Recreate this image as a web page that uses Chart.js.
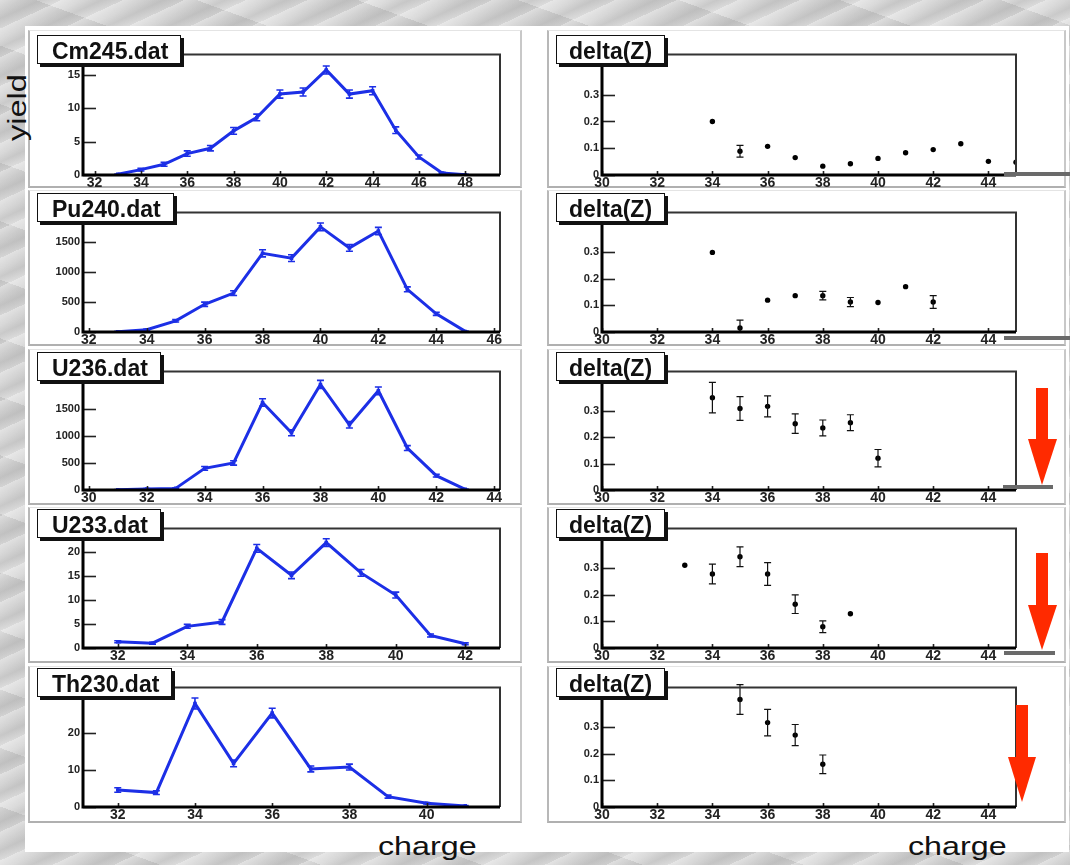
<!DOCTYPE html>
<html><head><meta charset="utf-8">
<script src="https://cdn.jsdelivr.net/npm/chart.js@4.4.1/dist/chart.umd.min.js"></script>
<style>
html,body{margin:0;padding:0;}
body{width:1070px;height:865px;position:relative;overflow:hidden;
 background:
  repeating-linear-gradient(155deg, rgba(255,255,255,0.35) 0px, rgba(255,255,255,0) 9px, rgba(150,150,150,0.25) 17px, rgba(255,255,255,0) 26px),
  repeating-linear-gradient(20deg, rgba(255,255,255,0.25) 0px, rgba(200,200,200,0) 30px, rgba(170,170,170,0.2) 55px),
  #d2d2d2;}
#sheet{position:absolute;left:25px;top:26px;width:1044px;height:826px;background:#fff;}
.pad{position:absolute;box-sizing:border-box;border-left:2px solid #b8b8b8;border-bottom:2px solid #b0b0b0;border-top:1px solid #e4e4e4;border-right:2px solid #c8c8c8;}
canvas{position:absolute;}
.tbox{position:absolute;background:#fff;border:1px solid #111;box-shadow:3px 3px 0 #111;
 font:bold 23px 'Liberation Sans',Arial,sans-serif;color:#111;height:29px;line-height:30px;box-sizing:border-box;white-space:nowrap;z-index:5;}
.lab{position:absolute;font:26px 'Liberation Sans',Arial,sans-serif;color:#111;white-space:nowrap;z-index:6;}
svg.ov{position:absolute;left:0;top:0;z-index:8;}
</style></head>
<body>
<div id="sheet"></div>
<div id="root"></div>
<div class="lab" style="left:-13px;top:92px;transform:rotate(-90deg) scaleX(1.25);transform-origin:50% 50%;width:60px;text-align:center;">yield</div>
<div class="lab" style="left:378px;top:831px;transform:scaleX(1.24);transform-origin:0 0;">charge</div>
<div class="lab" style="left:908px;top:831px;transform:scaleX(1.24);transform-origin:0 0;">charge</div>
<svg class="ov" width="1070" height="865">
 <g stroke="#6a6a6a" stroke-width="4">
  <line x1="1004" y1="174" x2="1070" y2="174"/>
  <line x1="1004" y1="338" x2="1070" y2="338"/>
  <line x1="1003" y1="487" x2="1053" y2="487"/>
  <line x1="1004" y1="653" x2="1055" y2="653"/>
 </g>
 <g fill="#ff2a00">
  <rect x="1036" y="388" width="12" height="52"/><polygon points="1028,439 1057,439 1042,485"/>
  <rect x="1036" y="553" width="12" height="53"/><polygon points="1028,605 1057,605 1042,650"/>
  <rect x="1016" y="705" width="12" height="53"/><polygon points="1008,757 1036,757 1022,802"/>
 </g>
</svg>
<script>
// ---------- data ----------
const charge_Cm245 = [33,34,35,36,37,38,39,40,41,42,43,44,45,46,47,48];
const yield_Cm245  = [0.1,0.8,1.6,3.2,4.0,6.6,8.6,12.1,12.4,15.7,12.1,12.6,6.7,2.7,0.3,0.05];
const err_Cm245    = [0.05,0.2,0.3,0.4,0.4,0.5,0.5,0.6,0.6,0.6,0.6,0.6,0.5,0.3,0.1,0.05];

const charge_Pu240 = [33,34,35,36,37,38,39,40,41,42,43,44,45];
const yield_Pu240  = [5,37,185,460,645,1305,1225,1743,1395,1675,708,301,10];
const err_Pu240    = [5,10,20,35,40,60,55,65,55,60,40,25,5];

const charge_U236 = [31,32,33,34,35,36,37,38,39,40,41,42,43];
const yield_U236  = [5,20,30,400,500,1618,1059,1953,1206,1835,776,265,12];
const err_U236    = [3,8,10,35,40,70,55,75,60,70,45,25,5];

const charge_U233 = [32,33,34,35,36,37,38,39,40,41,42];
const yield_U233  = [1.3,1.0,4.5,5.4,20.7,15.1,21.9,15.6,11.0,2.6,0.9];
const err_U233    = [0.2,0.2,0.4,0.5,0.8,0.7,0.8,0.7,0.6,0.3,0.2];

const charge_Th230 = [32,33,34,35,36,37,38,39,40,41];
const yield_Th230  = [4.6,3.9,28.0,11.8,25.4,10.3,10.8,2.8,1.0,0.3];
const err_Th230    = [0.6,0.5,1.5,0.9,1.3,0.8,0.8,0.4,0.2,0.1];

const dzCharge_Cm245 = [34,35,36,37,38,39,40,41,42,43,44,45];
const deltaZ_Cm245   = [0.200,0.089,0.107,0.065,0.033,0.042,0.062,0.083,0.095,0.117,0.051,0.048];
const dzErr_Cm245    = [0,0.022,0,0,0,0,0,0,0,0,0,0];

const dzCharge_Pu240 = [34,35,36,37,38,39,40,41,42];
const deltaZ_Pu240   = [0.300,0.015,0.120,0.137,0.137,0.113,0.111,0.171,0.113];
const dzErr_Pu240    = [0,0.030,0,0,0.016,0.017,0,0,0.024];

const dzCharge_U236 = [34,35,36,37,38,39,40];
const deltaZ_U236   = [0.351,0.310,0.318,0.252,0.236,0.256,0.121];
const dzErr_U236    = [0.058,0.045,0.040,0.037,0.030,0.030,0.033];

const dzCharge_U233 = [33,34,35,36,37,38,39];
const deltaZ_U233   = [0.312,0.279,0.344,0.279,0.165,0.080,0.129];
const dzErr_U233    = [0,0.037,0.037,0.043,0.035,0.022,0];

const dzCharge_Th230 = [35,36,37,38];
const deltaZ_Th230   = [0.405,0.318,0.271,0.161];
const dzErr_Th230    = [0.056,0.050,0.040,0.035];

// tick labels
const xTicks_Cm245 = [32,34,36,38,40,42,44,46,48];
const xTicks_Pu240 = [32,34,36,38,40,42,44,46];
const xTicks_U236  = [30,32,34,36,38,40,42,44];
const xTicks_U233  = [32,34,36,38,40,42];
const xTicks_Th230 = [32,34,36,38,40];
const yTicks_Cm245 = [0,5,10,15];
const yTicks_Pu240 = [0,500,1000,1500];
const yTicks_U236  = [0,500,1000,1500];
const yTicks_U233  = [0,5,10,15,20];
const yTicks_Th230 = [0,10,20];
const xTicks_delta = [30,32,34,36,38,40,42,44];
const yTicks_delta = [0,0.1,0.2,0.3];

const titles = ['Cm245.dat','Pu240.dat','U236.dat','U233.dat','Th230.dat'];
const deltaTitle = 'delta(Z)';

// axis ranges
const xRange_Cm245=[31.5,49.5], yRange_Cm245=[0,18];
const xRange_Pu240=[31.8,46.2], yRange_Pu240=[0,1980];
const xRange_U236=[29.8,44.2],  yRange_U236=[0,2190];
const xRange_U233=[31,43],      yRange_U233=[0,24.8];
const xRange_Th230=[31.1,41.9], yRange_Th230=[0,32.3];
const xRange_delta=[30,45], yRange_delta=[0,0.45];

// ---------- layout ----------
const frameTop=[49,207,366,523,682], frameBot=[175,332,490,648,807];
const padTop=[30,190,349,507,666], padBot=[188,346,505,663,823];
const LEFT={x0:83,x1:500}, RIGHT={x0:602,x1:1016};
const YW=45, XH=22, PT=4, PR=4;

const root=document.getElementById('root');
for(let i=0;i<5;i++){
  [[28,522],[547,1066]].forEach(([a,b])=>{
    const p=document.createElement('div');p.className='pad';
    p.style.cssText=`left:${a}px;top:${padTop[i]}px;width:${b-a}px;height:${padBot[i]-padTop[i]}px;`;
    root.appendChild(p);
  });
}

const BLUE='#1c2fe6';
const errPlugin={
  id:'rootStyle',
  afterDatasetsDraw(chart){
    const {ctx,scales:{x,y}}=chart;
    chart.data.datasets.forEach(ds=>{
      if(!ds.errs) return;
      ctx.save();ctx.strokeStyle=ds.errColor;ctx.lineWidth=ds.errWidth;
      ds.data.forEach((p,k)=>{
        const e=ds.errs[k];
        if(!e) return;
        const px=x.getPixelForValue(p.x);
        const pa=y.getPixelForValue(Math.max(p.y-e,0)), pb=y.getPixelForValue(p.y+e);
        ctx.beginPath();ctx.moveTo(px,pa);ctx.lineTo(px,pb);
        ctx.moveTo(px-ds.cap,pb);ctx.lineTo(px+ds.cap,pb);
        if(p.y-e>0){ctx.moveTo(px-ds.cap,pa);ctx.lineTo(px+ds.cap,pa);}
        ctx.stroke();
      });
      ctx.restore();
    });
  },
  afterDraw(chart){
    const {ctx,chartArea:a,scales:{x,y}}=chart;
    ctx.save();
    ctx.strokeStyle='#222';ctx.lineWidth=1.6;
    y.ticks.forEach(t=>{const py=Math.round(y.getPixelForValue(t.value))+0.5;ctx.beginPath();ctx.moveTo(a.left,py);ctx.lineTo(a.left+13,py);ctx.stroke();});
    x.ticks.forEach(t=>{const px=Math.round(x.getPixelForValue(t.value))+0.5;ctx.beginPath();ctx.moveTo(px,a.bottom);ctx.lineTo(px,a.bottom-4);ctx.stroke();});
    ctx.strokeStyle='#333';ctx.lineWidth=2;
    ctx.beginPath();ctx.moveTo(a.left,a.top);ctx.lineTo(a.right,a.top);ctx.lineTo(a.right,a.bottom);ctx.stroke();
    ctx.strokeStyle='#000';ctx.lineWidth=3;
    ctx.beginPath();ctx.moveTo(a.left,a.top);ctx.lineTo(a.left,a.bottom);ctx.lineTo(a.right,a.bottom);ctx.stroke();
    ctx.restore();
  }
};

function makeChart(row,side,xs,ys,es,xr,yr,xt,yt,title){
  const F=side==='L'?LEFT:RIGHT;
  const fw=F.x1-F.x0, fh=frameBot[row]-frameTop[row];
  const c=document.createElement('canvas');
  const W=YW+fw+PR, H=PT+fh+XH;
  c.width=W;c.height=H;
  c.style.left=(F.x0-YW)+'px';c.style.top=(frameTop[row]-PT)+'px';
  c.style.width=W+'px';c.style.height=H+'px';
  root.appendChild(c);
  const tb=document.createElement('div');tb.className='tbox';
  tb.textContent=title;
  if(side==='L'){tb.style.left='37px';tb.style.padding='0 12px 0 14px';}
  else{tb.style.left='556px';tb.style.padding='0 12px 0 12px';}
  tb.style.top=(frameTop[row]-14)+'px';
  root.appendChild(tb);
  const pts=xs.map((v,k)=>({x:v,y:ys[k]}));
  const isL=side==='L';
  const ds={
    data:pts, errs:es,
    borderColor:isL?BLUE:'#000', backgroundColor:isL?BLUE:'#000',
    borderWidth:isL?3:0, showLine:isL, tension:0,
    pointRadius:isL?2.5:2.7, pointStyle:isL?'rect':'circle',
    pointBackgroundColor:isL?BLUE:'#000', pointBorderWidth:0,
    errColor:isL?BLUE:'#111', errWidth:isL?1.6:1.2, cap:3.5
  };
  new Chart(c,{
    type:'scatter',
    data:{datasets:[ds]},
    options:{
      responsive:false,animation:false,devicePixelRatio:1,
      layout:{padding:{top:PT,right:PR,left:0,bottom:0}},
      plugins:{legend:{display:false},tooltip:{enabled:false}},
      scales:{
        x:{type:'linear',min:xr[0],max:xr[1],
           afterBuildTicks:s=>{s.ticks=xt.map(v=>({value:v}));},
           afterFit:s=>{s.height=XH;},
           grid:{display:false,drawTicks:false},border:{display:false},
           ticks:{padding:0,autoSkip:false,maxRotation:0,color:'#222',
             font:{family:"'Liberation Sans Narrow','Liberation Sans',Arial",size:14,weight:'bold'},
             callback:v=>String(v)}},
        y:{type:'linear',min:yr[0],max:yr[1],
           afterBuildTicks:s=>{s.ticks=yt.map(v=>({value:v}));},
           afterFit:s=>{s.width=YW;},
           grid:{display:false,drawTicks:false},border:{display:false},
           ticks:{padding:3,autoSkip:false,color:'#222',
             font:{family:"'Liberation Sans',Arial",size:11,weight:'bold'},
             callback:v=>String(v)}}
      }
    },
    plugins:[errPlugin]
  });
}

makeChart(0,'L',charge_Cm245,yield_Cm245,err_Cm245,xRange_Cm245,yRange_Cm245,xTicks_Cm245,yTicks_Cm245,titles[0]);
makeChart(1,'L',charge_Pu240,yield_Pu240,err_Pu240,xRange_Pu240,yRange_Pu240,xTicks_Pu240,yTicks_Pu240,titles[1]);
makeChart(2,'L',charge_U236,yield_U236,err_U236,xRange_U236,yRange_U236,xTicks_U236,yTicks_U236,titles[2]);
makeChart(3,'L',charge_U233,yield_U233,err_U233,xRange_U233,yRange_U233,xTicks_U233,yTicks_U233,titles[3]);
makeChart(4,'L',charge_Th230,yield_Th230,err_Th230,xRange_Th230,yRange_Th230,xTicks_Th230,yTicks_Th230,titles[4]);
makeChart(0,'R',dzCharge_Cm245,deltaZ_Cm245,dzErr_Cm245,xRange_delta,yRange_delta,xTicks_delta,yTicks_delta,deltaTitle);
makeChart(1,'R',dzCharge_Pu240,deltaZ_Pu240,dzErr_Pu240,xRange_delta,yRange_delta,xTicks_delta,yTicks_delta,deltaTitle);
makeChart(2,'R',dzCharge_U236,deltaZ_U236,dzErr_U236,xRange_delta,yRange_delta,xTicks_delta,yTicks_delta,deltaTitle);
makeChart(3,'R',dzCharge_U233,deltaZ_U233,dzErr_U233,xRange_delta,yRange_delta,xTicks_delta,yTicks_delta,deltaTitle);
makeChart(4,'R',dzCharge_Th230,deltaZ_Th230,dzErr_Th230,xRange_delta,yRange_delta,xTicks_delta,yTicks_delta,deltaTitle);
</script>
</body></html>
